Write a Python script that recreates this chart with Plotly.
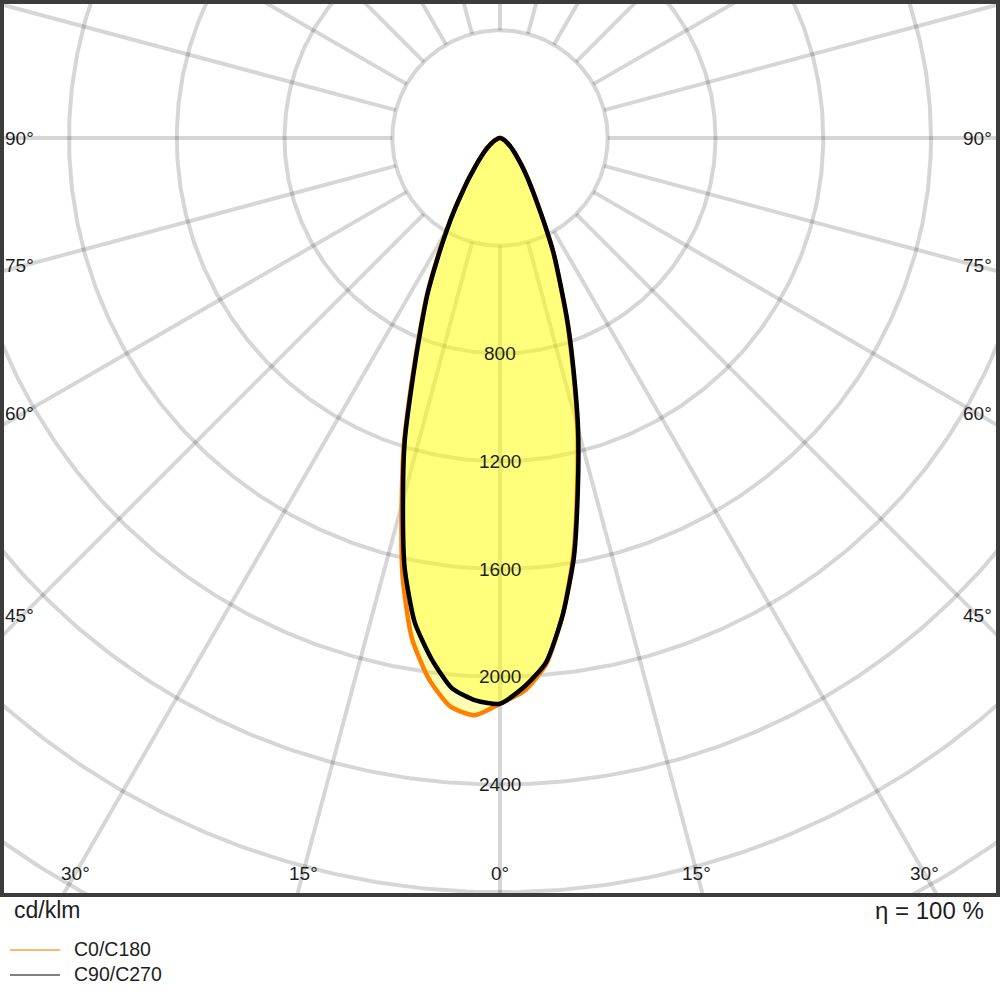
import numpy as np
import plotly.graph_objects as go

# ---------------- data ----------------
gamma = np.arange(0, 90.01, 2.5)  # vertical angle from nadir, degrees

# C-plane intensities in cd/klm
I_C0 = [2100, 2055, 1962, 1785, 1570, 1325, 1110, 902, 732, 580, 466, 352, 270,
        215, 172, 140, 112, 92, 76, 63, 52, 43, 35, 29, 24, 19, 15, 12, 9, 7, 5,
        4, 3, 2, 1, 1, 0]
I_C180 = [2100, 2145, 2118, 2025, 1885, 1670, 1410, 1185, 955, 778, 640, 505, 400,
          313, 243, 192, 152, 123, 101, 84, 70, 58, 48, 39, 32, 26, 21, 17, 13, 10, 8,
          6, 4, 3, 2, 1, 0]
I_C90 = [2100, 2040, 1955, 1785, 1580, 1335, 1120, 910, 738, 585, 470, 355, 272,
         215, 172, 140, 112, 92, 76, 63, 52, 43, 35, 29, 24, 19, 15, 12, 9, 7, 5,
         4, 3, 2, 1, 1, 0]
I_C270 = [2100, 2090, 2050, 1950, 1825, 1635, 1392, 1175, 945, 770, 635, 500, 395,
          310, 240, 190, 150, 122, 100, 83, 70, 58, 48, 39, 32, 26, 21, 17, 13, 10, 8,
          6, 4, 3, 2, 1, 0]

grid_radii = [400, 800, 1200, 1600, 2000, 2400, 2800, 3200, 3600, 4000]
grid_angles = list(range(0, 360, 15))
radial_labels = [800, 1200, 1600, 2000, 2400]
side_angle_labels = [45, 60, 75, 90]
bottom_angle_labels = [0, 15, 30]
legend_names = ["C0/C180", "C90/C270"]
unit_label = "cd/klm"
eta_label = "\u03b7 = 100 %"

# ---------------- layout constants ----------------
CX, CY = 500.0, 138.0          # pole position in pixels
S = 400.0 / 107.75             # cd/klm per pixel
FX0, FX1, FY0, FY1 = 2, 998, 2, 895  # frame in pixels
FONT = "Liberation Sans, Arial, sans-serif"
TXT = "#1e1e1e"
GRID = "rgba(0,0,0,0.16)"


def px2paper(X, Y):
    return X / 1000.0, 1.0 - Y / 1000.0


fig = go.Figure()

# grid circles (each its own trace so crossings darken)
t = np.linspace(0, 2 * np.pi, 721)
for r in grid_radii:
    fig.add_trace(go.Scatter(x=r * np.cos(t), y=r * np.sin(t), mode="lines",
                             line=dict(color=GRID, width=4), hoverinfo="skip",
                             showlegend=False))
# radial grid lines
for a in grid_angles:
    ar = np.radians(a)
    r0, r1 = grid_radii[0], grid_radii[-1]
    fig.add_trace(go.Scatter(x=[r0 * np.sin(ar), r1 * np.sin(ar)],
                             y=[-r0 * np.cos(ar), -r1 * np.cos(ar)], mode="lines",
                             line=dict(color=GRID, width=4), hoverinfo="skip",
                             showlegend=False))


def curve(I_left, I_right):
    g = np.radians(gamma)
    IL = np.array(I_left, float)
    IR = np.array(I_right, float)
    x = np.concatenate([-(IL * np.sin(g))[::-1], (IR * np.sin(g))[1:]])
    y = np.concatenate([-(IL * np.cos(g))[::-1], -(IR * np.cos(g))[1:]])
    return x, y


xa, ya = curve(I_C180, I_C0)
xb, yb = curve(I_C270, I_C90)

for xx, yy in [(xa, ya), (xb, yb)]:
    fig.add_trace(go.Scatter(x=xx, y=yy, mode="lines", fill="toself",
                             fillcolor="rgba(255,255,0,0.30)",
                             line=dict(width=0, shape="spline", smoothing=0.6),
                             hoverinfo="skip", showlegend=False))

fig.add_trace(go.Scatter(x=xa, y=ya, mode="lines", name=legend_names[0],
                         line=dict(color="#ff8000", width=4.5, shape="spline", smoothing=0.6),
                         showlegend=False))
fig.add_trace(go.Scatter(x=xb, y=yb, mode="lines", name=legend_names[1],
                         line=dict(color="#000000", width=4.5, shape="spline", smoothing=0.6),
                         showlegend=False))

annotations = []
# radial value labels
for r in radial_labels:
    annotations.append(dict(x=0, y=-r, xref="x", yref="y", text=str(r),
                            showarrow=False, font=dict(family=FONT, size=19, color=TXT),
                            xanchor="center", yanchor="middle"))
# side angle labels
DX = 477 * S
for a in side_angle_labels:
    yv = -DX / np.tan(np.radians(a)) if a != 90 else 0.0
    annotations.append(dict(x=(FX0 + 1 - CX) * S, y=yv, xref="x", yref="y",
                            text=f"{a}\u00b0", showarrow=False,
                            font=dict(family=FONT, size=19, color=TXT),
                            xanchor="left", yanchor="middle"))
    annotations.append(dict(x=(FX1 - 4 - CX) * S, y=yv, xref="x", yref="y",
                            text=f"{a}\u00b0", showarrow=False,
                            font=dict(family=FONT, size=19, color=TXT),
                            xanchor="right", yanchor="middle"))
# bottom angle labels
DY = 735 * S
for a in bottom_angle_labels:
    xs = [0.0] if a == 0 else [-DY * np.tan(np.radians(a)), DY * np.tan(np.radians(a))]
    for xv in xs:
        annotations.append(dict(x=xv, y=-DY, xref="x", yref="y",
                                text=f"{a}\u00b0", showarrow=False,
                                font=dict(family=FONT, size=19, color=TXT),
                                xanchor="center", yanchor="middle"))

# unit and efficiency
px_, py_ = px2paper(12, 910)
annotations.append(dict(x=px_, y=py_, xref="paper", yref="paper", text=unit_label,
                        showarrow=False, font=dict(family=FONT, size=23, color=TXT),
                        xanchor="left", yanchor="middle"))
px_, py_ = px2paper(986, 910)
annotations.append(dict(x=px_, y=py_, xref="paper", yref="paper", text=eta_label,
                        showarrow=False, font=dict(family=FONT, size=24, color=TXT),
                        xanchor="right", yanchor="middle"))

# legend
shapes = []
leg_colors = ["#ffb86c", "#808080"]
for i, (name, col) in enumerate(zip(legend_names, leg_colors)):
    Y = 950 + 25 * i
    x0p, y0p = px2paper(10, Y)
    x1p, _ = px2paper(60, Y)
    shapes.append(dict(type="line", xref="paper", yref="paper", x0=x0p, x1=x1p,
                       y0=y0p, y1=y0p, line=dict(color=col, width=2)))
    tx, ty = px2paper(72, Y - 1)
    annotations.append(dict(x=tx, y=ty, xref="paper", yref="paper", text=name,
                            showarrow=False, font=dict(family=FONT, size=19.5, color=TXT),
                            xanchor="left", yanchor="middle"))

# frame
a0, b1 = px2paper(FX0, FY0)
a1, b0 = px2paper(FX1, FY1)
shapes.append(dict(type="rect", xref="paper", yref="paper", x0=a0, x1=a1, y0=b0, y1=b1,
                   line=dict(color="#3c3c3c", width=4), layer="above"))

fig.update_layout(
    width=1000, height=1000, autosize=False,
    margin=dict(l=0, r=0, t=0, b=0, pad=0),
    paper_bgcolor="white", plot_bgcolor="white",
    xaxis=dict(domain=[FX0 / 1000, FX1 / 1000], range=[(FX0 - CX) * S, (FX1 - CX) * S],
               visible=False, fixedrange=True),
    yaxis=dict(domain=[1 - FY1 / 1000, 1 - FY0 / 1000],
               range=[(CY - FY1) * S, (CY - FY0) * S], visible=False, fixedrange=True),
    annotations=annotations, shapes=shapes, showlegend=False,
)

fig.write_html("out.html", config={"displayModeBar": False},
               post_script="document.body.style.margin='0';"
                           "document.body.style.overflow='hidden';")
